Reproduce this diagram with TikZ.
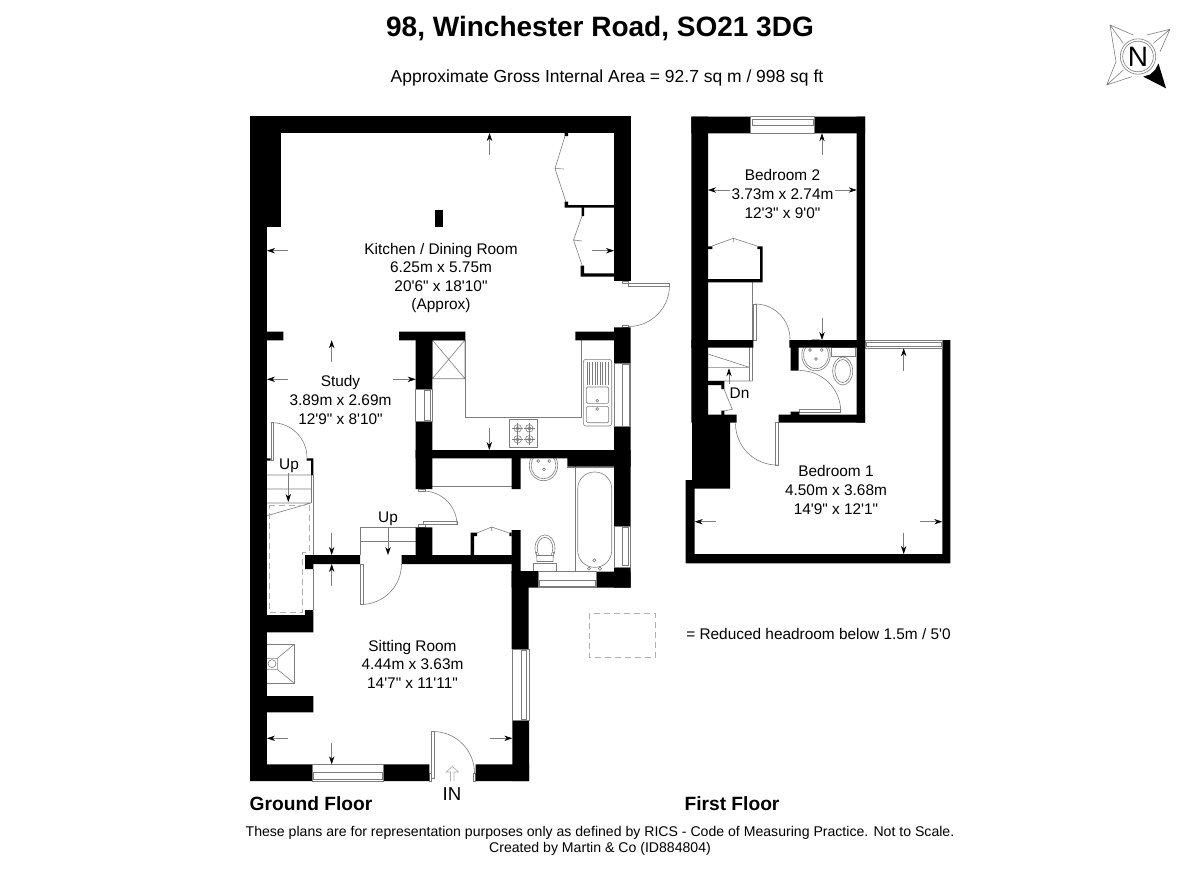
\documentclass[tikz,border=0pt]{standalone}
\usepackage{fontspec}
\setmainfont{Liberation Sans}[Ligatures=TeXOff]
\usetikzlibrary{arrows.meta}
\usepackage{xcolor}
\definecolor{planline}{RGB}{125,125,125}
\definecolor{dashline}{RGB}{175,175,175}
\tikzstyle{wall} = [fill=black]
\tikzstyle{thin} = [draw=planline, line width=0.45pt]
\tikzstyle{glass} = [draw=planline, line width=0.45pt, fill=white]
\tikzstyle{dimarrow} = [draw=planline, line width=0.4pt, -{Stealth[black,length=6pt,width=4pt]}]
\tikzstyle{roomtext} = [align=center, inner sep=0pt, font=\fontsize{11.55}{13.9}\selectfont]
\tikzstyle{floortext} = [inner sep=0pt, font=\fontsize{14.4}{17}\selectfont\bfseries]
\tikzstyle{keyline} = [draw=dashline, line width=0.7pt, dash pattern=on 4.5pt off 3pt]
\begin{document}
\begin{tikzpicture}[x=0.75pt, y=-0.75pt]
\useasboundingbox (0,0) rectangle (1200,868);
% Headings
\node[inner sep=0pt, font=\fontsize{21}{24}\selectfont\bfseries] (title) at (600,28.5) {98, Winchester Road, SO21 3DG};
\node[roomtext, font=\fontsize{13.1}{15}\selectfont] (area) at (607,77.5) {Approximate Gross Internal Area = 92.7 sq m / 998 sq ft};
\node[floortext] (ground) at (311,804) {Ground Floor};
\node[floortext] (first) at (732,804) {First Floor};
\node[roomtext, font=\fontsize{10.57}{12}\selectfont] (notes) at (600,841) {These plans are for representation purposes only as defined by RICS - Code of Measuring Practice. Not to Scale.\\Created by Martin \& Co (ID884804)};
% Compass
\draw[thin] (1110,25) -- (1133.3,35) (1110,25) -- (1116,61.7) (1110,25) -- (1123.3,43.3);
\draw[thin] (1170,29.3) -- (1146.7,35) (1170,29.3) -- (1160,51.7) (1170,29.3) -- (1153.3,43.3);
\draw[thin] (1106.7,85) -- (1116,61.7) (1106.7,85) -- (1131.7,76.7) (1106.7,85) -- (1123.3,70);
\fill[black] (1166,88.3) -- (1158.5,63.5) -- (1155,70) -- (1150,74.5) -- (1143.3,76.7) -- cycle;
\draw[thin, fill=white] (1138,56.5) circle (17.7);
\draw[thin] (1138,56.5) circle (15.3);
\node[inner sep=0pt, font=\fontsize{21}{24}\selectfont] (north) at (1138,57) {N};
% Kitchen fittings
\draw[thin] (465,340) -- (465,417.3) -- (581,417.3) -- (581,340);
\draw[thin] (432.3,340) rectangle (465,378.7) (432.3,340) -- (465,378.7) (465,340) -- (432.3,378.7);
\draw[thin] (509.7,419.7) rectangle (537.7,447.3);
\foreach \bx/\by in {517.7/428.3, 529.3/428.3, 517.7/439.3, 529.3/439.3} {
  \draw[thin] (\bx,\by) circle (3.8) (\bx,\by) circle (1.8);
  \draw[thin] (\bx-5.5,\by) -- (\bx+5.5,\by) (\bx,\by-5.5) -- (\bx,\by+5.5);
}
\draw[thin, rounded corners=2pt] (583.3,359.3) rectangle (611.7,426);
\foreach \gx in {587,589.6,...,608} {\draw[thin] (\gx,362) -- (\gx,384.5);}
\draw[thin, rounded corners=1pt] (586.3,387) rectangle (608.7,403.3);
\draw[thin, rounded corners=1pt] (586.3,406.3) rectangle (608.7,422.7);
\draw[thin] (597.3,400.7) circle (1.4) (597.3,409) circle (1.4);
% Bathroom fittings
\draw[thin] (543.5,465.5) ellipse [x radius=14.2, y radius=15.2];
\draw[thin] (543.5,465.5) ellipse [x radius=12.4, y radius=13.2];
\draw[thin] (538.3,461) circle (1.4) (549.3,461) circle (1.4) (544,469.3) circle (1.4);
\draw[thin] (545,548.3) ellipse [x radius=10, y radius=13.4];
\draw[thin] (545,548.3) ellipse [x radius=7.8, y radius=11];
\fill[white] (535,555.5) rectangle (555,564);
\draw[thin] (537,555.5) -- (553,555.5) (536.5,552) -- (537,561.5) -- (553,561.5) -- (553.5,552);
\draw[thin] (533.3,563) rectangle (556.7,571);
\draw[thin] (575.7,458.3) -- (575.7,571) (567,467.3) -- (614,467.3);
\draw[thin, rounded corners=12.5pt] (577.7,472) rectangle (611.7,567.3);
\draw[thin] (594.3,560.3) circle (1.6) (589,568.7) circle (1.6) (600,568.7) circle (1.6);
\draw[thin] (538.3,571) -- (596,571);
% Cupboards and door leaves
\draw[thin] (432,486) -- (512,486);
\draw[thin] (565,136) -- (555,168.5) -- (566,202) (555,168.5) -- (564,169);
\draw[thin] (582,216) -- (573.5,240) -- (582,265) (573.5,240) -- (582,241);
\draw[thin] (477,533) -- (491.7,527) -- (509,533) (491.7,527) -- (491.7,531);
\draw[thin] (712,246) -- (733.3,238.3) -- (757,246) (733.3,238.3) -- (733.3,242);
\draw[thin] (752.3,282) -- (752.3,340);
\draw[glass] (622,281) rectangle (628,283.5) (622,325) rectangle (628,327);
\draw[glass] (628,283.3) rectangle (669.5,286);
\draw[thin] (669.5,285.5) arc (0:90:41);
\draw[glass] (271,422.7) rectangle (273.7,460);
\draw[thin] (272,422.7) arc (270:360:35);
\draw[glass] (418,489) rectangle (425,491.7) (418,524.7) rectangle (425,527);
\draw[glass] (423,521.3) rectangle (457,524.7);
\draw[thin] (457,525) arc (0:-90:34);
\draw[glass] (360.3,564) rectangle (363.3,604.3);
\draw[thin] (361,604.5) arc (90:0:40.5);
\draw[glass] (431.3,731.3) rectangle (434.3,778) (429.3,773) rectangle (431.3,781) (473.3,773) rectangle (475.7,781);
\draw[thin] (433,731.5) arc (270:360:41.5);
\draw[glass] (753.3,304) rectangle (756.3,340);
\draw[thin] (755,304) arc (270:360:35);
\draw[glass] (799.3,409.3) rectangle (840.7,412.3);
\draw[thin] (840.7,411.5) arc (0:-90:41);
\draw[glass] (775.3,422.7) rectangle (778.7,465);
\draw[thin] (777,465) arc (90:180:41.5);
\draw[thin] (724,389) -- (732.3,409.3) -- (724,411);
% Stairs
\draw[thin] (267,475) -- (313.3,475) (267,489) -- (311,489) (267,503) -- (311,503) (267,515.7) -- (311,503);
\draw[thin] (311,475) -- (311,503) (313.3,475) -- (313.3,555) (313.3,569) -- (313.3,610);
\draw[keyline] (269.3,505) -- (309,505) -- (309,552.3) -- (302.3,552.3) -- (302.3,612.3) -- (269.3,612.3) -- cycle;
\draw[thin] (360.3,555) -- (360.3,527.3) -- (415.7,527.3) (360.3,541.3) -- (415.7,541.3);
\draw[thin] (708,354) -- (749.3,367.3) (708,367.3) -- (749.3,367.3) (708,381) -- (752.3,381);
\draw[thin] (749.3,347) -- (749.3,381) (752.3,347) -- (752.3,381);
% Fireplace
\draw[thin] (266.7,644.3) -- (294.3,644.3) -- (294.3,683.3) -- (266.7,683.3);
\draw[thin] (294.3,644.3) -- (277.3,658.3) -- (277.3,669.3) -- (294.3,683.3) (266.7,658.3) -- (277.3,658.3) (266.7,669.3) -- (277.3,669.3);
\draw[thin] (272,663.7) circle (4);
% En-suite fittings
\draw[thin] (816,355) ellipse [x radius=14.2, y radius=15.8];
\draw[thin] (816,355) ellipse [x radius=12.4, y radius=13.8];
\draw[thin] (810,350) circle (1.4) (821.7,350) circle (1.4) (816,359) circle (1.4);
\draw[thin] (831.7,347.7) rectangle (855,356.7);
\draw[thin] (842.7,371) ellipse [x radius=10, y radius=14];
\draw[thin] (842.7,371) ellipse [x radius=7.8, y radius=11.5];
% Ground floor walls
\fill[wall] (250,116) rectangle (630.7,133);
\fill[wall] (250,116) rectangle (280.7,226.7);
\fill[wall] (250,116) rectangle (266.7,781);
\fill[wall] (614,116) rectangle (630.7,281);
\fill[wall] (565,205) rectangle (614,207.5) (564.7,201.7) rectangle (568,207.5) (564.7,133) rectangle (568,136);
\fill[wall] (581.7,207) rectangle (584,216) (580.7,265.7) rectangle (584,276.7) (581,273.3) rectangle (614,276.7);
\fill[wall] (434.7,210) rectangle (443.3,227.3);
\fill[wall] (250,331.7) rectangle (283.3,340.3) (399,331.7) rectangle (465.3,340.3) (575.3,331.7) rectangle (614,340.3);
\fill[wall] (614,327.3) rectangle (630.7,363.3) (614,426.7) rectangle (630.7,526) (614,567.3) rectangle (630.7,587.7);
\fill[wall] (415.7,340) rectangle (432.3,389.3) (415.7,421.7) rectangle (432.3,489);
\fill[wall] (415.7,450) rectangle (630.7,458.3) (567.3,450) rectangle (630.7,466.7);
\fill[wall] (511.7,458) rectangle (520.7,489) (511.7,530) rectangle (520.7,571);
\fill[wall] (511.7,571) rectangle (538.3,587.5) (596,571.7) rectangle (630.7,587.7);
\fill[wall] (511.7,571) rectangle (528.7,649) (512.3,720) rectangle (529,781);
\fill[wall] (415.7,527.3) rectangle (432.3,563.5) (401.7,555) rectangle (512.7,564);
\fill[wall] (305,555) rectangle (360,564) (305,555) rectangle (313.3,569);
\fill[wall] (470.7,532.7) rectangle (474,555) (470.7,532.7) rectangle (477,536) (509.3,532.7) rectangle (511.7,536);
\fill[wall] (250,458.3) rectangle (270.7,460.7) (306.7,458.3) rectangle (313.3,460.7) (311,458.3) rectangle (313.3,475);
\fill[wall] (250,615) rectangle (313.3,632.3) (305,610) rectangle (313.3,615) (250,696) rectangle (313.3,712.3);
\fill[wall] (250,764.3) rectangle (312.3,781) (383.3,764.3) rectangle (429.3,781) (475.7,764.3) rectangle (529,781);
% First floor walls
\fill[wall] (691.3,116.7) rectangle (750.7,133.3) (814,116.7) rectangle (865,133.3);
\fill[wall] (691.3,116.7) rectangle (708,422.7) (856.7,116.7) rectangle (865,422.7);
\fill[wall] (708,279) rectangle (762.7,282.3) (760,246.3) rectangle (762.7,282.3) (708,246.3) rectangle (712.3,249) (757.3,246.3) rectangle (762.7,249);
\fill[wall] (691.3,340) rectangle (753.3,347.7) (789.3,340) rectangle (865,347.7) (790.7,347) rectangle (798.7,370.7);
\fill[wall] (790.7,411.7) rectangle (799.3,415) (778.7,414.7) rectangle (865,422.7);
\fill[wall] (692,414.7) rectangle (736.7,422.7) (692,422.7) rectangle (730,488.7);
\fill[wall] (708,381) rectangle (724.3,385) (721.3,381) rectangle (724.3,389) (721.3,410.7) rectangle (724.3,415);
\fill[wall] (685.7,480) rectangle (694.7,563.3) (685.7,554) rectangle (950.3,563.3) (942.3,340) rectangle (950.3,563.3);
% Windows
\draw[glass] (415.7,389.3) rectangle (432.3,421.7) (424,390) rectangle (430.7,420.7);
\draw[glass] (614,363.3) rectangle (630.7,426.7) (622,364.3) rectangle (629.3,426);
\draw[glass] (614,526) rectangle (630.7,567.3) (622.3,527) rectangle (628.3,565.7);
\draw[glass] (538.3,571) rectangle (596,587.5) (539,580) rectangle (595,586);
\draw[glass] (512.3,649) rectangle (529,720) (521,650) rectangle (526.7,719);
\draw[glass] (312.3,764.3) rectangle (383.3,781) (313,772) rectangle (382.5,779);
\draw[glass] (750.7,116.7) rectangle (814,133.3) (752,119) rectangle (813,125);
\draw[glass] (865,340) rectangle (942.3,348.3) (866,342.7) rectangle (941.5,346);
% Entrance arrow
\draw[draw=dashline, line width=0.5pt] (450.5,781) -- (450.5,772) -- (446,772) -- (452.3,766.5) -- (458.5,772) -- (454,772) -- (454,781);
% Sizes
\draw[dimarrow] (489.5,155) -- (489.5,133);
\draw[dimarrow] (288,250.7) -- (267,250.7);
\draw[dimarrow] (592,250.7) -- (614,250.7);
\draw[dimarrow] (331.7,362) -- (331.7,340.3);
\draw[dimarrow] (288,379.3) -- (267,379.3);
\draw[dimarrow] (393.3,379.3) -- (415.7,379.3);
\draw[dimarrow] (331.7,533) -- (331.7,555);
\draw[dimarrow] (489.3,428) -- (489.3,450);
\draw[dimarrow] (331.7,586) -- (331.7,564);
\draw[dimarrow] (288,738.3) -- (267,738.3);
\draw[dimarrow] (490,738.3) -- (512.3,738.3);
\draw[dimarrow] (331.7,742.7) -- (331.7,764.3);
\draw[dimarrow] (822,155) -- (822,133.3);
\draw[dimarrow] (730,190) -- (708,190);
\draw[dimarrow] (835,190) -- (856.7,190);
\draw[dimarrow] (822,318.3) -- (822,340);
\draw[dimarrow] (903.7,370.7) -- (903.7,348.3);
\draw[dimarrow] (716,521.7) -- (694.7,521.7);
\draw[dimarrow] (920,521.7) -- (942.3,521.7);
\draw[dimarrow] (903.7,532.7) -- (903.7,554);
\draw[dimarrow] (288.3,473) -- (288.3,502);
\draw[dimarrow] (388,527.3) -- (388,555);
\draw[dimarrow] (729,384) -- (729,368.3);
% Headroom key
\draw[keyline] (589,613) rectangle (655.5,657);
\node[roomtext, anchor=west] (headroom) at (686,634) {= Reduced headroom below 1.5m / 5'0};
% Rooms
\node[roomtext] (kitchen) at (441,278) {Kitchen / Dining Room\\6.25m x 5.75m\\20'6" x 18'10"\\(Approx)};
\node[roomtext] (study) at (340.5,400) {Study\\3.89m x 2.69m\\12'9" x 8'10"};
\node[roomtext] (sitting) at (412.5,664) {Sitting Room\\4.44m x 3.63m\\14'7" x 11'11"};
\node[roomtext] (bedtwo) at (782.5,194) {Bedroom 2\\3.73m x 2.74m\\12'3" x 9'0"};
\node[roomtext] (bedone) at (836,490) {Bedroom 1\\4.50m x 3.68m\\14'9" x 12'1"};
\node[roomtext] (upa) at (289,466) {Up};
\node[roomtext] (upb) at (388,518.5) {Up};
\node[roomtext] (down) at (739.5,393.5) {Dn};
\node[roomtext, font=\fontsize{14}{16}\selectfont] (entry) at (452,794) {IN};
\end{tikzpicture}
\end{document}
